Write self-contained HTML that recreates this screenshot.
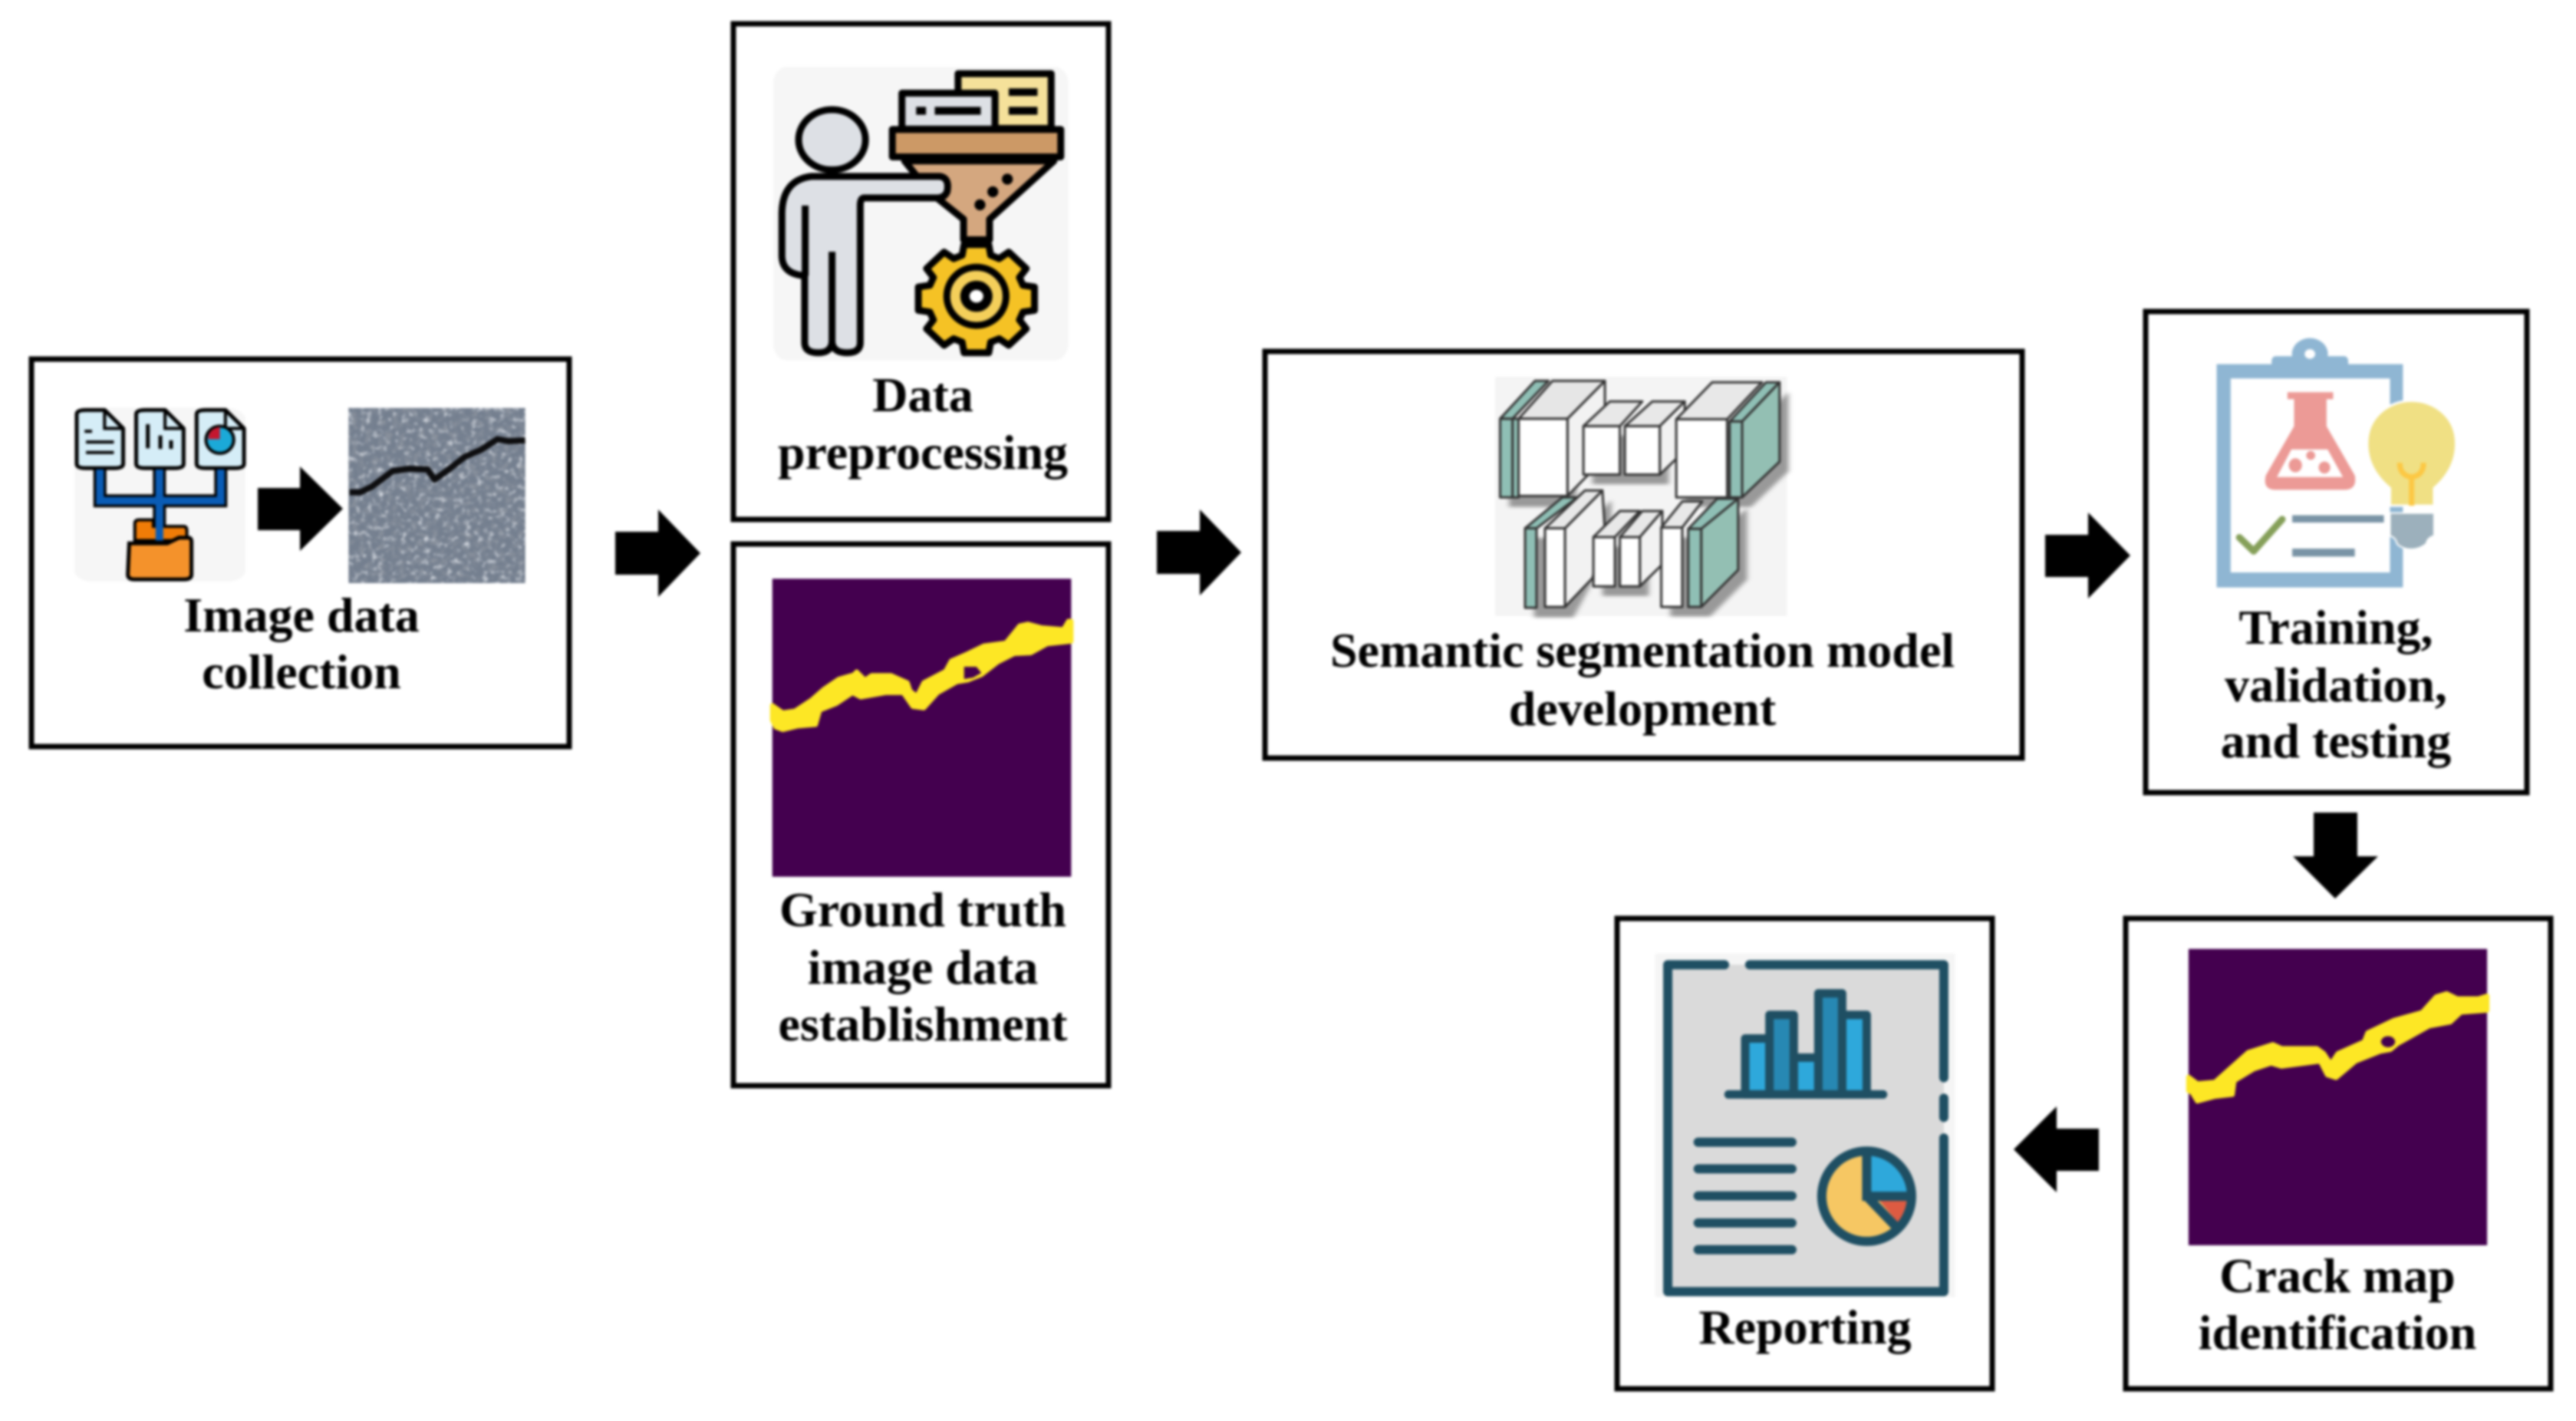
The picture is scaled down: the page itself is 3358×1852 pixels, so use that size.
<!DOCTYPE html>
<html><head><meta charset="utf-8"><style>
html,body{margin:0;padding:0;background:#fff;width:3358px;height:1852px;overflow:hidden}
svg{display:block;filter:blur(1.5px)}
svg *{vector-effect:non-scaling-stroke}
text{font-family:"Liberation Serif",serif;font-weight:bold;font-size:64px;text-anchor:middle;fill:#000}
.b{fill:#fff;stroke:#000;stroke-width:7}
</style></head><body>
<svg xmlns="http://www.w3.org/2000/svg" width="3358" height="1852" viewBox="0 0 3358 1852">
<defs>
<filter id="sp" x="0" y="0" width="100%" height="100%"><feTurbulence type="fractalNoise" baseFrequency="0.07 0.045" numOctaves="3" seed="4"/><feColorMatrix values="0 0 0 0 .26  0 0 0 0 .29  0 0 0 0 .34  2.6 0 0 0 -1.2"/></filter>
<filter id="sl" x="0" y="0" width="100%" height="100%"><feTurbulence type="fractalNoise" baseFrequency="0.08 0.05" numOctaves="3" seed="11"/><feColorMatrix values="0 0 0 0 .72  0 0 0 0 .75  0 0 0 0 .8  2.6 0 0 0 -1.4"/></filter>
<filter id="sb" x="-20%" y="-20%" width="140%" height="140%"><feGaussianBlur stdDeviation="5"/></filter>
</defs>
<rect width="3358" height="1852" fill="#fff"/>

<!-- boxes -->
<rect class="b" x="41" y="468" width="701" height="505"/>
<rect class="b" x="956" y="31" width="489" height="646"/>
<rect class="b" x="956" y="709" width="489" height="706"/>
<rect class="b" x="1649" y="458" width="987" height="530"/>
<rect class="b" x="2797" y="406" width="497" height="627"/>
<rect class="b" x="2108" y="1197" width="489" height="613"/>
<rect class="b" x="2771" y="1197" width="554" height="613"/>

<!-- arrows -->
<g fill="#000">
<polygon points="336,636 391,636 391,608 447,663 391,718 391,691 336,691"/>
<polygon transform="translate(-4 -4)" points="806,697 862,697 862,668 917,725 862,782 862,753 806,753"/>
<polygon transform="translate(-8 -6)" points="1516,698 1572,698 1572,670 1626,726 1572,782 1572,754 1516,754"/>
<polygon transform="translate(-15 -6)" points="2681,703 2737,703 2737,674 2792,730 2737,786 2737,758 2681,758"/>
<polygon transform="translate(-17 -6)" points="3033,1065 3090,1065 3090,1122 3117,1122 3061,1177 3006,1122 3033,1122"/>
<polygon transform="translate(-15 -11)" points="2640,1509 2696,1453 2696,1482 2751,1482 2751,1537 2696,1537 2696,1565"/>
</g>

<!-- Image data collection icon -->
<g transform="translate(0 440) scale(.6059 .3699)">
<rect x="160" y="248" width="368" height="612" rx="40" fill="#f6f6f6"/>
<g fill="#d5edf7" stroke="#000" stroke-width="5" stroke-linejoin="round">
<path d="M165,270 Q165,255 185,255 H225 L265,320 V445 Q265,460 245,460 H185 Q165,460 165,445 Z"/>
<path d="M293,270 Q293,255 313,255 H355 L395,320 V445 Q395,460 375,460 H313 Q293,460 293,445 Z"/>
<path d="M423,270 Q423,255 443,255 H485 L525,320 V445 Q525,460 505,460 H443 Q423,460 423,445 Z"/>
</g>
<g fill="none" stroke="#000" stroke-width="4">
<path d="M225,255 V320 H265M355,255 V320 H395M485,255 V320 H525"/>
<path d="M182,330 H198M185,368 H245M185,405 H245"/>
<path d="M318,305 V390M345,345 V392M368,362 V392" stroke-width="5"/>
</g>
<ellipse cx="473" cy="360" rx="30" ry="48" fill="#1ba9d8" stroke="#000" stroke-width="4"/>
<path d="M473,315 V358 H448 Q448,320 473,315Z" fill="#c5172f"/>
<path d="M215,465 V575 H475 V465M343,465 V715" fill="none" stroke="#000" stroke-width="17"/>
<path d="M215,465 V575 H475 V465M343,465 V715" fill="none" stroke="#0a5cb5" stroke-width="10"/>
<path d="M290,715 V655 Q290,642 300,642 H330 V665 H395 Q402,665 402,680 V715 Z" fill="#f07c07" stroke="#000" stroke-width="4"/>
<path d="M343,465 V715" fill="none" stroke="#0a5cb5" stroke-width="10"/>
<path d="M278,725 H360 L385,705 H405 Q412,705 412,720 V835 Q412,852 395,852 H290 Q275,852 275,835 Z" fill="#f4922b" stroke="#000" stroke-width="5"/>
<rect x="750" y="248" width="380" height="617" fill="#747f8f"/>
<rect x="750" y="248" width="380" height="617" filter="url(#sp)"/>
<rect x="750" y="248" width="380" height="617" filter="url(#sl)"/>
<path d="M752,545 L775,545 L800,525 L845,470 L880,462 L920,465 L935,500 L965,465 L1000,420 L1035,395 L1070,358 L1095,365 L1130,362" fill="none" stroke="#0e0e10" stroke-width="8" stroke-linejoin="round"/>
</g>
<text x="393" y="823">Image data</text>
<text x="393" y="897">collection</text>

<!-- Data preprocessing icon -->
<g transform="translate(940 0) scale(.3571 .4464)">
<rect x="190" y="195" width="1078" height="857" rx="50" fill="#f6f6f6"/>
<g stroke="#000" stroke-width="9" stroke-linejoin="round">
<polygon points="1144,838 1144,906 1102,911 1089,934 1114,960 1050,1008 1015,989 984,999 977,1030 887,1030 880,999 849,989 814,1008 750,960 775,934 762,911 720,906 720,838 762,833 775,810 750,784 814,736 849,755 880,745 887,714 977,714 984,745 1015,755 1050,736 1114,784 1089,810 1102,833" fill="#f5c225"/>
<ellipse cx="932" cy="865" rx="108" ry="85" fill="#f4cf5a"/>
<ellipse cx="932" cy="865" rx="42" ry="32" fill="#fff" stroke-width="12"/>
<path d="M670,470 H1215 L980,640 V700 H885 V640 L760,560 Z" fill="#d4a77f"/>
<rect x="865" y="215" width="340" height="160" fill="#f5e19a"/>
<rect x="660" y="272" width="340" height="105" fill="#dde0e5"/>
<rect x="625" y="378" width="615" height="80" fill="#cc9966"/>
<ellipse cx="405" cy="408" rx="122" ry="88" fill="#dde0e5"/>
<path d="M330,515 H800 Q835,520 825,560 Q815,578 790,578 H520 Q508,580 508,600 V1000 Q508,1030 460,1030 Q410,1030 405,1000 Q400,1030 355,1030 Q305,1030 305,1000 V805 Q225,800 222,750 V620 Q225,525 330,515 Z" fill="#dde0e5"/>
<path d="M307,600 V805M405,735 V1000" fill="none"/>
</g>
<g fill="#000">
<rect x="1050" y="258" width="105" height="22"/><rect x="1050" y="312" width="105" height="23"/>
<rect x="712" y="312" width="36" height="23"/><rect x="780" y="312" width="168" height="23"/>
<ellipse cx="945" cy="598" rx="20" ry="16"/><ellipse cx="992" cy="560" rx="20" ry="16"/><ellipse cx="1045" cy="523" rx="20" ry="16"/>
</g>
</g>
<text x="1203" y="536">Data</text>
<text x="1203" y="611">preprocessing</text>

<!-- Ground truth -->
<g transform="translate(940 700) scale(.3571 .4719)">
<rect x="187" y="115" width="1091" height="823" fill="#44004f"/>
<path d="M187,465 L225,485 L270,480 L330,450 L375,420 L430,392 L485,380 L495,372 L525,395 L550,382 L620,382 L680,402 L690,425 L715,440 L740,402 L820,370 L840,342 L900,322 L960,300 L1040,292 L1090,245 L1120,240 L1170,250 L1250,255 L1268,232 L1278,232 L1278,288 L1190,295 L1130,320 L1070,322 L1010,345 L950,380 L900,395 L860,400 L790,430 L740,472 L700,468 L665,430 L600,430 L510,442 L480,430 L420,460 L360,478 L345,518 L280,522 L225,532 L200,525 L187,505 Z" fill="#fde725" stroke="#fde725" stroke-width="6" stroke-linejoin="round"/>
<path d="M887,358 L932,358 L950,375 L920,388 L887,392 Z" fill="#44004f"/>
</g>
<text x="1203" y="1207">Ground truth</text>
<text x="1203" y="1282">image data</text>
<text x="1203" y="1356">establishment</text>

<!-- Semantic model icon -->
<g transform="translate(1640 450) scale(.6505 .3571)">
<rect x="475" y="115" width="585" height="873" fill="#f4f4f4"/>
<g fill="#999" filter="url(#sb)" transform="translate(18 35)">
<rect x="485" y="268" width="135" height="287"/><rect x="652" y="295" width="153" height="177"/>
<polygon points="838,270 970,270 1045,135 1045,425 970,555 838,555"/>
<rect x="535" y="668" width="80" height="290"/><polygon points="615,668 690,530 690,700 615,955"/><rect x="672" y="700" width="93" height="180"/>
<polygon points="808,665 888,670 962,560 962,820 888,955 808,955"/>
</g>
<g stroke="#333" stroke-width="3" stroke-linejoin="round">
<polygon points="485,268 555,130 582,130 510,268" fill="#8fbfb5"/>
<rect x="485" y="268" width="25" height="287" fill="#8fbfb5"/>
<rect x="510" y="268" width="12" height="287" fill="#8fbfb5"/>
<polygon points="620,268 695,130 695,410 620,550" fill="#f2f2f2"/>
<polygon points="522,268 590,130 695,130 620,268" fill="#e6e6e6"/>
<rect x="522" y="268" width="98" height="282" fill="#fff"/>
<polygon points="652,295 705,205 770,205 725,295" fill="#e8e8e8"/>
<polygon points="735,295 790,205 855,205 805,295" fill="#e8e8e8"/>
<polygon points="805,295 855,205 855,385 805,472" fill="#f2f2f2"/>
<rect x="652" y="295" width="73" height="177" fill="#fff"/>
<rect x="735" y="295" width="70" height="177" fill="#fff"/>
<polygon points="838,270 910,135 1010,135 940,270" fill="#e8e8e8"/>
<rect x="838" y="270" width="102" height="285" fill="#fff"/>
<polygon points="945,278 1018,135 1045,135 970,278" fill="#8fbfb5"/>
<polygon points="970,278 1045,135 1045,425 970,555" fill="#93bfb3"/>
<rect x="945" y="278" width="25" height="277" fill="#8fbfb5"/>
<polygon points="535,668 610,555 640,555 558,668" fill="#8fbfb5"/>
<rect x="535" y="668" width="23" height="290" fill="#8fbfb5"/>
<polygon points="615,668 690,530 695,680 670,850 615,955" fill="#f2f2f2"/>
<polygon points="575,668 655,530 690,530 615,668" fill="#e8e8e8"/>
<rect x="575" y="668" width="40" height="287" fill="#fff"/>
<polygon points="672,700 725,605 765,605 715,700" fill="#e8e8e8"/>
<polygon points="725,700 770,605 810,605 765,700" fill="#e8e8e8"/>
<polygon points="765,700 810,605 810,800 765,880" fill="#f2f2f2"/>
<rect x="672" y="700" width="43" height="180" fill="#fff"/>
<rect x="725" y="700" width="40" height="180" fill="#fff"/>
<polygon points="808,665 850,570 890,570 850,665" fill="#e8e8e8"/>
<rect x="808" y="665" width="42" height="290" fill="#fff"/>
<polygon points="862,670 920,560 962,560 888,670" fill="#8fbfb5"/>
<polygon points="888,670 962,560 962,820 888,955" fill="#93bfb3"/>
<rect x="862" y="670" width="26" height="285" fill="#8fbfb5"/>
</g>
</g>
<text x="2141" y="869">Semantic segmentation model</text>
<text x="2141" y="945">development</text>

<!-- Training icon -->
<g transform="translate(2789 400) scale(.3444 .4145)">
<ellipse cx="645" cy="148" rx="68" ry="50" fill="#8fb6d3"/>
<rect x="500" y="155" width="290" height="40" rx="15" fill="#8fb6d3"/>
<rect x="292" y="180" width="705" height="702" fill="#8fb6d3"/>
<rect x="345" y="225" width="603" height="610" fill="#fff"/>
<ellipse cx="645" cy="148" rx="20" ry="15" fill="#fff"/>
<path d="M560,268 H733 V290 H708 V375 L815,530 Q825,575 775,575 H515 Q465,575 478,530 L585,375 V290 H560 Z" fill="#ec9a96"/>
<path d="M575,448 H712 L770,535 H520 Z" fill="#fff"/>
<ellipse cx="590" cy="498" rx="25" ry="22" fill="#ec9a96"/><ellipse cx="648" cy="467" rx="17" ry="14" fill="#ec9a96"/><ellipse cx="700" cy="505" rx="22" ry="19" fill="#ec9a96"/>
<path d="M378,725 L432,768 L540,668" fill="none" stroke="#86a05a" stroke-width="9" stroke-linecap="round" stroke-linejoin="round"/>
<rect x="578" y="655" width="347" height="23" fill="#7a94a6"/><rect x="578" y="760" width="237" height="25" fill="#7a94a6"/>
<path d="M948,625 V570 Q862,510 862,430 C862,345 945,295 1030,295 C1115,295 1198,345 1198,430 Q1198,510 1115,570 V625 Z" fill="#f0e084" stroke="#fff" stroke-width="3"/>
<path d="M985,490 Q985,530 1030,535 Q1075,530 1075,490M1030,535 V625" fill="none" stroke="#fcc844" stroke-width="7"/>
<path d="M948,648 H1115 V720 Q1090,725 1085,745 Q1060,762 1030,762 Q995,762 975,745 Q970,725 948,720 Z" fill="#9cb0bc" stroke="#fff" stroke-width="2"/>
</g>
<text x="3045" y="839">Training,</text>
<text x="3045" y="914">validation,</text>
<text x="3045" y="987">and testing</text>

<!-- Reporting icon -->
<g transform="translate(2100 1191) scale(.3444 .4145)">
<rect x="168" y="125" width="1135" height="1080" fill="#f5f5f5"/>
<rect x="215" y="160" width="1045" height="1028" fill="#dadada"/>
<path d="M215,160 H430 M525,160 H1260" stroke="#f5f5f5" stroke-width="12"/>
<g fill="none" stroke="#1f4f63" stroke-width="12" stroke-linecap="round" stroke-linejoin="round">
<path d="M430,160 H215 V1188 H1260 V705"/><path d="M1260,640 V580"/><path d="M1260,515 V160 H525"/>
</g>
<g stroke="#1f4f63" stroke-width="11" stroke-linejoin="round">
<rect x="508" y="392" width="92" height="176" fill="#2ea8db"/>
<rect x="692" y="452" width="93" height="116" fill="#2ea8db"/>
<rect x="875" y="318" width="93" height="250" fill="#2ea8db"/>
<rect x="600" y="318" width="92" height="250" fill="#2788b3"/>
<rect x="785" y="250" width="90" height="318" fill="#2788b3"/>
</g>
<path d="M445,568 H1030" stroke="#1f4f63" stroke-width="11" stroke-linecap="round"/>
<path d="M330,718 H685M330,802 H685M330,887 H685M330,972 H685M330,1056 H685" stroke="#1f4f63" stroke-width="12" stroke-linecap="round"/>
<ellipse cx="968" cy="888" rx="170" ry="142" fill="#f6c763"/>
<path d="M968,888 V748 A170,142 0 0 1 1138,888 Z" fill="#2ea8db"/>
<path d="M1010,896 H1130 L1090,975 Z" fill="#dd5b42"/>
<g fill="none" stroke="#1f4f63" stroke-width="12">
<ellipse cx="968" cy="888" rx="170" ry="142"/>
<path d="M968,750 V888 H1135M968,888 L1080,985"/>
</g>
</g>
<text x="2353" y="1751">Reporting</text>

<!-- Crack map -->
<g transform="translate(2640 1049) scale(.4579 .5102)">
<rect x="465" y="368" width="850" height="757" fill="#44004f"/>
<path d="M465,695 L490,712 L540,708 L600,660 L635,632 L705,612 L730,622 L830,622 L850,635 L870,662 L890,635 L965,605 L975,582 L1050,550 L1130,530 L1170,490 L1200,482 L1230,495 L1290,495 L1315,488 L1315,525 L1240,530 L1210,555 L1150,565 L1060,610 L1040,625 L1010,630 L940,655 L885,697 L860,690 L840,655 L730,668 L700,660 L650,675 L595,705 L590,740 L540,745 L490,757 L475,735 L465,730 Z" fill="#fde725" stroke="#fde725" stroke-width="6" stroke-linejoin="round"/>
<ellipse cx="1033" cy="605" rx="20" ry="14" fill="#44004f"/>
</g>
<text x="3047" y="1684">Crack map</text>
<text x="3047" y="1758">identification</text>
</svg>
</body></html>
